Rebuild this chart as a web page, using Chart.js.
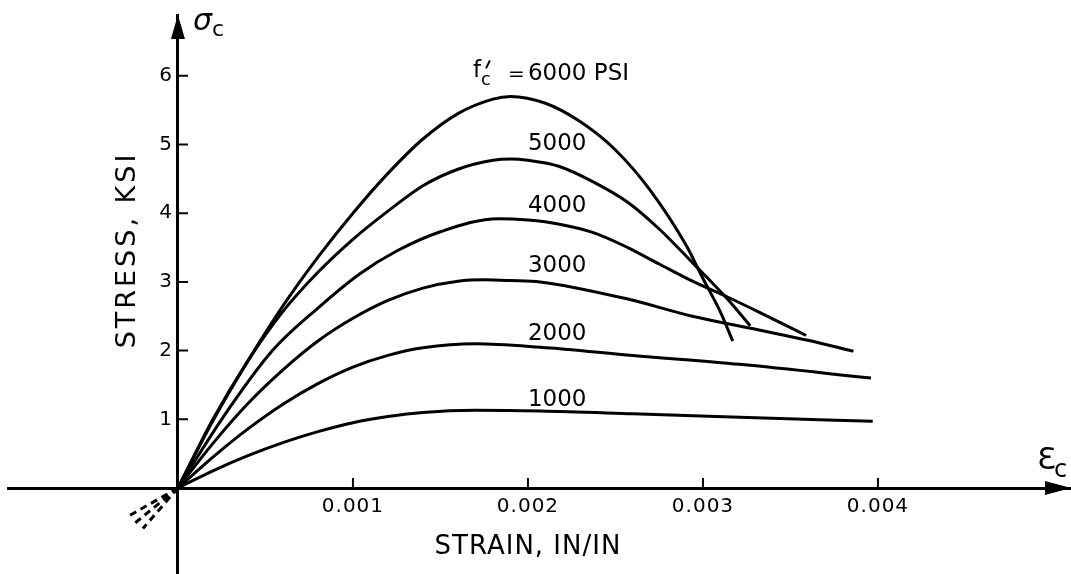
<!DOCTYPE html>
<html>
<head>
  <meta charset="UTF-8">
  <title>Concrete stress-strain curves</title>
  <script src="https://cdn.jsdelivr.net/npm/chart.js"></script>
  <style>
    body { margin: 0; background: #fff; }
    #wrap { width: 1071px; height: 574px; position: relative; }
  </style>
</head>
<body>
  <div id="wrap"><canvas id="chart"></canvas></div>
  <script>
    // axis ticks
    const xTicks = [0.001, 0.002, 0.003, 0.004];
    const xTickLabels = ['0.001', '0.002', '0.003', '0.004'];
    const yTicks = [1, 2, 3, 4, 5, 6];
    const yTickLabels = ['1', '2', '3', '4', '5', '6'];

    // curves (strain in/in, stress ksi)
    const strain6000 = [0, 0.0002, 0.0004, 0.0006, 0.0008, 0.001, 0.0012, 0.0014, 0.0016, 0.0018, 0.0019, 0.0021, 0.0023, 0.0025, 0.0027, 0.0029, 0.003, 0.0031, 0.00317];
    const stress6000 = [0, 0.98, 1.85, 2.65, 3.36, 4.0, 4.58, 5.08, 5.45, 5.66, 5.70, 5.60, 5.33, 4.92, 4.33, 3.55, 3.05, 2.56, 2.14];
    const strain5000 = [0, 0.0002, 0.0004, 0.0006, 0.0008, 0.001, 0.0012, 0.0014, 0.0016, 0.0018, 0.0019, 0.002, 0.00218, 0.00237, 0.00257, 0.00275, 0.00294, 0.00314, 0.00327];
    const stress5000 = [0, 1.0, 1.85, 2.57, 3.14, 3.62, 4.03, 4.4, 4.64, 4.77, 4.79, 4.77, 4.68, 4.46, 4.16, 3.77, 3.28, 2.75, 2.36];
    const strain4000 = [0, 0.00025, 0.00054, 0.0008, 0.00104, 0.00125, 0.0015, 0.00183, 0.002, 0.00218, 0.00237, 0.00257, 0.00275, 0.00294, 0.00314, 0.00332, 0.00359];
    const stress4000 = [0, 1.0, 2.0, 2.62, 3.12, 3.45, 3.73, 3.92, 3.9, 3.84, 3.72, 3.5, 3.26, 3.01, 2.78, 2.56, 2.22];
    const strain3000 = [0, 0.0002, 0.0004, 0.0006, 0.0008, 0.001, 0.0012, 0.0014, 0.0016, 0.00175, 0.0019, 0.00207, 0.00257, 0.00294, 0.00332, 0.0036, 0.00386];
    const stress3000 = [0, 0.65, 1.23, 1.72, 2.14, 2.47, 2.73, 2.91, 3.01, 3.03, 3.02, 3.0, 2.75, 2.5, 2.3, 2.15, 1.99];
    const strain2000 = [0, 0.0002, 0.0004, 0.0006, 0.0008, 0.001, 0.0012, 0.0014, 0.0017, 0.00207, 0.0026, 0.00321, 0.00396];
    const stress2000 = [0, 0.45, 0.86, 1.22, 1.52, 1.76, 1.93, 2.04, 2.1, 2.05, 1.93, 1.8, 1.6];
    const strain1000 = [0, 0.0002, 0.0004, 0.0006, 0.0008, 0.001, 0.0012, 0.0014, 0.0017, 0.00207, 0.0026, 0.00321, 0.00397];
    const stress1000 = [0, 0.25, 0.47, 0.66, 0.82, 0.95, 1.04, 1.1, 1.13, 1.12, 1.08, 1.03, 0.97];

    // short dashed lines below the origin
    const tailStrain = [-0.00029, -0.00025, -0.0002];
    const tailStress = [-0.42, -0.52, -0.59];

    // curve labels
    const curveNames = ['6000 PSI', '5000', '4000', '3000', '2000', '1000'];
    const labelStrain = [0.002, 0.002, 0.002, 0.002, 0.002, 0.002];
    const labelStress = [6.02, 5.0, 4.1, 3.23, 2.24, 1.28];

    const zip = (xs, ys) => xs.map((x, i) => ({ x: x, y: ys[i] }));
    const curve = (xs, ys) => ({
      data: zip(xs, ys),
      borderColor: '#000',
      borderWidth: 3,
      pointRadius: 0,
      fill: false,
      cubicInterpolationMode: 'monotone'
    });

    const datasets = [
      curve(strain6000, stress6000),
      curve(strain5000, stress5000),
      curve(strain4000, stress4000),
      curve(strain3000, stress3000),
      curve(strain2000, stress2000),
      curve(strain1000, stress1000)
    ];
    tailStrain.forEach((s, i) => {
      datasets.push({
        data: [{ x: 0, y: 0 }, { x: s, y: tailStress[i] }],
        borderColor: '#000',
        borderWidth: 3,
        borderDash: [7, 5],
        pointRadius: 0,
        fill: false
      });
    });

    const FONT = '"DejaVu Sans", sans-serif';

    const extras = {
      id: 'extras',
      afterDatasetsDraw(chart) {
        const { ctx, chartArea } = chart;
        const xs = chart.scales.x, ys = chart.scales.y;
        const x0 = xs.getPixelForValue(0), y0 = ys.getPixelForValue(0);
        ctx.save();
        ctx.fillStyle = '#000';
        ctx.strokeStyle = '#000';

        // tick marks on the inner side
        ctx.lineWidth = 2;
        ctx.beginPath();
        xTicks.forEach(v => {
          const px = xs.getPixelForValue(v);
          ctx.moveTo(px, y0); ctx.lineTo(px, y0 - 10);
        });
        yTicks.forEach(v => {
          const py = ys.getPixelForValue(v);
          ctx.moveTo(x0, py); ctx.lineTo(x0 + 10, py);
        });
        ctx.stroke();

        // tick labels
        ctx.font = '20px ' + FONT;
        ctx.textBaseline = 'middle';
        ctx.textAlign = 'center';
        ctx.letterSpacing = '1px';
        xTicks.forEach((v, i) => ctx.fillText(xTickLabels[i], xs.getPixelForValue(v), y0 + 19));
        ctx.textAlign = 'right';
        ctx.letterSpacing = '0px';
        yTicks.forEach((v, i) => ctx.fillText(yTickLabels[i], x0 - 6, ys.getPixelForValue(v)));

        // arrow heads
        ctx.beginPath();
        ctx.moveTo(chartArea.right, y0);
        ctx.lineTo(chartArea.right - 26, y0 - 7);
        ctx.lineTo(chartArea.right - 26, y0 + 7);
        ctx.closePath();
        ctx.fill();
        ctx.beginPath();
        ctx.moveTo(x0, chartArea.top);
        ctx.lineTo(x0 - 7, chartArea.top + 24);
        ctx.lineTo(x0 + 7, chartArea.top + 24);
        ctx.closePath();
        ctx.fill();

        // axis titles
        ctx.textAlign = 'center';
        ctx.font = '26px ' + FONT;
        ctx.letterSpacing = '1px';
        ctx.fillText('STRAIN, IN/IN', xs.getPixelForValue(0.002), 547);
        ctx.save();
        ctx.translate(128, 250);
        ctx.rotate(-Math.PI / 2);
        ctx.letterSpacing = '3px';
        ctx.font = '27px ' + FONT;
        ctx.fillText('STRESS, KSI', 0, 0);
        ctx.restore();
        ctx.letterSpacing = '0px';

        // sigma_c and epsilon_c
        ctx.textAlign = 'left';
        ctx.textBaseline = 'alphabetic';
        ctx.font = 'italic 30px ' + FONT;
        ctx.fillText('σ', x0 + 15, 30);
        ctx.font = '22px ' + FONT;
        ctx.fillText('c', x0 + 34, 36);
        ctx.font = '31px ' + FONT;
        ctx.fillText('Ɛ', 1037, 469);
        ctx.font = '24px ' + FONT;
        ctx.fillText('c', 1054, 477);

        // curve labels
        ctx.font = '23px ' + FONT;
        ctx.textBaseline = 'middle';
        curveNames.forEach((t, i) => {
          ctx.fillText(t, xs.getPixelForValue(labelStrain[i]), ys.getPixelForValue(labelStress[i]));
        });
        // f'c = in front of the top label
        const lx = xs.getPixelForValue(labelStrain[0]);
        const ly = ys.getPixelForValue(labelStress[0]);
        ctx.font = '20px ' + FONT;
        ctx.fillText('=', lx - 20, ly);
        ctx.font = '23px ' + FONT;
        ctx.fillText('f', lx - 55, ly - 3);
        ctx.font = '18px ' + FONT;
        ctx.fillText('c', lx - 47, ly + 6);
        ctx.lineWidth = 2;
        ctx.beginPath();
        ctx.moveTo(lx - 38, ly - 14);
        ctx.lineTo(lx - 42, ly - 6);
        ctx.stroke();
        ctx.restore();
      }
    };

    new Chart(document.getElementById('chart'), {
      type: 'line',
      data: { datasets: datasets },
      options: {
        responsive: true,
        maintainAspectRatio: false,
        animation: false,
        events: [],
        layout: { padding: { left: 8, top: 15, right: 0, bottom: 0 } },
        plugins: { legend: { display: false }, tooltip: { enabled: false } },
        scales: {
          x: {
            type: 'linear',
            position: { y: 0 },
            min: -0.000971,
            max: 0.005103,
            afterBuildTicks: s => { s.ticks = xTicks.map(v => ({ value: v })); },
            ticks: { display: false },
            grid: { display: false, drawTicks: false },
            border: { color: '#000', width: 3 }
          },
          y: {
            type: 'linear',
            position: { x: 0 },
            min: -1.2518,
            max: 6.885,
            afterBuildTicks: s => { s.ticks = yTicks.map(v => ({ value: v })); },
            ticks: { display: false },
            grid: { display: false, drawTicks: false },
            border: { color: '#000', width: 3 }
          }
        }
      },
      plugins: [extras]
    });
  </script>
</body>
</html>
